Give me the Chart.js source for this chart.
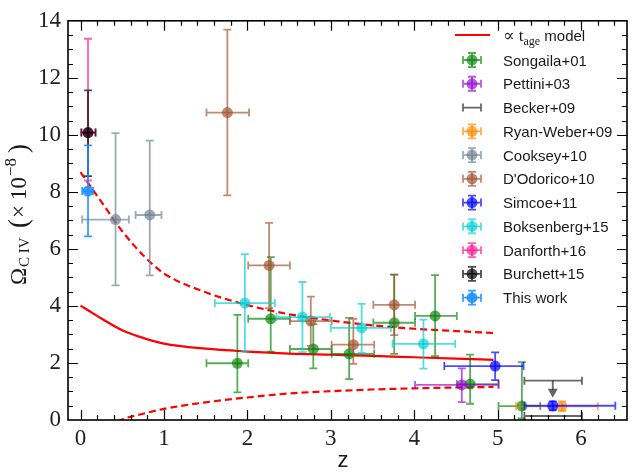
<!DOCTYPE html>
<html lang="en">
<head>
<meta charset="UTF-8">
<title>C IV cosmic mass density</title>
<script src="https://cdn.jsdelivr.net/npm/chart.js"></script>
<style>
  html, body { margin: 0; padding: 0; background: #fff; }
  #civChart { display: block; }
</style>
</head>
<body>
<canvas id="civChart" width="633" height="472"></canvas>
<script>
// Omega_CIV in units of 1e-8; z ranges are bin edges, Om ranges are 1-sigma bounds
var songailaZ    = [1.88, 2.28, 2.79, 3.22, 3.76, 4.25, 4.67, 5.29];
var songailaZLo  = [1.51, 2.01, 2.51, 3.01, 3.51, 4.01, 4.51, 5.01];
var songailaZHi  = [2.01, 2.51, 3.01, 3.52, 4.01, 4.51, 5.01, 5.51];
var songailaOm   = [1.99, 3.55, 2.49, 2.32, 3.41, 3.65, 1.26, 0.49];
var songailaOmLo = [0.97, 2.40, 1.81, 1.43, 2.32, 2.24, 0.57, 0.06];
var songailaOmHi = [3.69, 5.71, 3.36, 3.58, 5.10, 5.08, 2.29, 2.03];

var pettiniZ = [4.57], pettiniZLo = [4.01], pettiniZHi = [5.01];
var pettiniOm = [1.23], pettiniOmLo = [0.63], pettiniOmHi = [1.81];

// Becker: first value is an upper limit (arrow down to the lower number)
var beckerZ = [5.66, 5.66], beckerZLo = [5.32, 5.32], beckerZHi = [6.01, 6.01];
var beckerOm = [1.38, 0.14], beckerArrowTo = [0.78, null];

var ryanWeberZ = [5.77], ryanWeberZLo = [5.22], ryanWeberZHi = [6.20];
var ryanWeberOm = [0.48], ryanWeberOmLo = [0.32], ryanWeberOmHi = [0.65];

var cookseyZ = [0.42, 0.83], cookseyZLo = [0.02, 0.66], cookseyZHi = [0.58, 0.97];
var cookseyOm = [7.03, 7.19], cookseyOmLo = [4.72, 5.07], cookseyOmHi = [10.06, 9.80];

var dodoricoZ    = [1.76, 2.26, 2.76, 3.27, 3.76];
var dodoricoZLo  = [1.51, 2.01, 2.51, 3.01, 3.51];
var dodoricoZHi  = [2.02, 2.51, 3.01, 3.52, 4.01];
var dodoricoOm   = [10.78, 5.42, 3.47, 2.64, 4.04];
var dodoricoOmLo = [7.88, 3.92, 2.60, 1.97, 2.98];
var dodoricoOmHi = [13.69, 6.91, 4.33, 3.55, 5.10];

var simcoeZ = [4.97, 5.66], simcoeZLo = [4.36, 5.32], simcoeZHi = [5.31, 6.41];
var simcoeOm = [1.89, 0.50], simcoeOmLo = [1.40, 0.34], simcoeOmHi = [2.37, 0.65];

var boksenbergZ    = [1.97, 2.66, 3.37, 4.11];
var boksenbergZLo  = [1.61, 2.35, 3.00, 3.74];
var boksenbergZHi  = [2.33, 2.99, 3.72, 4.49];
var boksenbergOm   = [4.10, 3.61, 3.23, 2.67];
var boksenbergOmLo = [2.41, 2.38, 2.35, 1.80];
var boksenbergOmHi = [5.82, 4.84, 4.07, 3.52];

var danforthZ = [0.09], danforthZLo = [0.01], danforthZHi = [0.18];
var danforthOm = [10.08], danforthOmLo = [8.40], danforthOmHi = [13.37];

var burchettZ = [0.09], burchettZLo = [0.01], burchettZHi = [0.18];
var burchettOm = [10.08], burchettOmLo = [8.55], burchettOmHi = [11.56];

var thisWorkZ = [0.09], thisWorkZLo = [0.02], thisWorkZHi = [0.15];
var thisWorkOm = [8.03], thisWorkOmLo = [6.44], thisWorkOmHi = [9.63];

// t_age model curve and its spread
var modelZ     = [0, 0.1, 0.25, 0.5, 0.75, 1.0, 1.5, 2.0, 2.5, 3.0, 3.5, 4.0, 4.5, 4.95];
var modelMid   = [4.01, 3.83, 3.56, 3.15, 2.88, 2.68, 2.50, 2.40, 2.33, 2.29, 2.25, 2.20, 2.15, 2.11];
var modelUpper = [8.69, 8.27, 7.65, 6.62, 5.78, 5.14, 4.48, 4.03, 3.71, 3.49, 3.32, 3.20, 3.12, 3.05];
var modelLower = [-0.90, -0.72, -0.40, 0.02, 0.22, 0.39, 0.62, 0.79, 0.93, 1.01, 1.07, 1.11, 1.14, 1.16];

// axis ticks
var xMajor = [0, 1, 2, 3, 4, 5, 6];
var yMajor = [0, 2, 4, 6, 8, 10, 12, 14];

function pts(z, om, zLo, zHi, omLo, omHi, arrowTo) {
  return z.map(function (v, i) {
    return {
      x: v, y: om[i],
      xMin: zLo ? zLo[i] : null, xMax: zHi ? zHi[i] : null,
      yMin: omLo ? omLo[i] : null, yMax: omHi ? omHi[i] : null,
      arrowTo: arrowTo ? arrowTo[i] : null
    };
  });
}

function survey(label, rgb, alpha, data, noMarker) {
  var c = 'rgba(' + rgb + ',' + alpha + ')';
  return {
    label: label, data: data,
    errColor: c, noMarker: !!noMarker,
    pointRadius: noMarker ? 0 : 5.5,
    pointHoverRadius: noMarker ? 0 : 5.5,
    pointBackgroundColor: c, pointBorderWidth: 0,
    showLine: false
  };
}

function curve(z, vals, dash) {
  return {
    label: 'model', data: z.map(function (v, i) { return { x: v, y: vals[i] }; }),
    showLine: true, borderColor: '#ff0000', borderWidth: 2.2,
    borderDash: dash || [], pointRadius: 0, pointHoverRadius: 0,
    cubicInterpolationMode: 'monotone', fill: false, isModel: true
  };
}

var datasets = [
  curve(modelZ, modelMid),
  curve(modelZ, modelUpper, [7, 4]),
  curve(modelZ, modelLower, [7, 4]),
  survey('Songaila+01', '0,128,0', 0.65, pts(songailaZ, songailaOm, songailaZLo, songailaZHi, songailaOmLo, songailaOmHi)),
  survey('Pettini+03', '148,0,211', 0.65, pts(pettiniZ, pettiniOm, pettiniZLo, pettiniZHi, pettiniOmLo, pettiniOmHi)),
  survey('Becker+09', '0,0,0', 0.6, pts(beckerZ, beckerOm, beckerZLo, beckerZHi, null, null, beckerArrowTo), true),
  survey('Ryan-Weber+09', '255,140,0', 0.7, pts(ryanWeberZ, ryanWeberOm, ryanWeberZLo, ryanWeberZHi, ryanWeberOmLo, ryanWeberOmHi)),
  survey('Cooksey+10', '112,128,144', 0.68, pts(cookseyZ, cookseyOm, cookseyZLo, cookseyZHi, cookseyOmLo, cookseyOmHi)),
  survey("D'Odorico+10", '160,82,45', 0.68, pts(dodoricoZ, dodoricoOm, dodoricoZLo, dodoricoZHi, dodoricoOmLo, dodoricoOmHi)),
  survey('Simcoe+11', '0,0,255', 0.7, pts(simcoeZ, simcoeOm, simcoeZLo, simcoeZHi, simcoeOmLo, simcoeOmHi)),
  survey('Boksenberg+15', '0,206,209', 0.68, pts(boksenbergZ, boksenbergOm, boksenbergZLo, boksenbergZHi, boksenbergOmLo, boksenbergOmHi)),
  survey('Danforth+16', '255,20,147', 0.68, pts(danforthZ, danforthOm, danforthZLo, danforthZHi, danforthOmLo, danforthOmHi)),
  survey('Burchett+15', '0,0,0', 0.7, pts(burchettZ, burchettOm, burchettZLo, burchettZHi, burchettOmLo, burchettOmHi)),
  survey('This work', '30,144,255', 0.88, pts(thisWorkZ, thisWorkOm, thisWorkZLo, thisWorkZHi, thisWorkOmLo, thisWorkOmHi))
];
// first plotted goes underneath
datasets.forEach(function (d, i) { d.order = datasets.length - i; });

var CAP = 4;

// error bars drawn right before each dataset's markers
var errorBars = {
  id: 'errorBars',
  beforeDatasetDraw: function (chart, args) {
    var ds = chart.data.datasets[args.index];
    if (!ds.errColor) return;
    var ctx = chart.ctx, xs = chart.scales.x, ys = chart.scales.y, a = chart.chartArea;
    ctx.save();
    ctx.beginPath();
    ctx.rect(a.left, a.top, a.right - a.left, a.bottom - a.top);
    ctx.clip();
    ctx.strokeStyle = ds.errColor;
    ctx.fillStyle = ds.errColor;
    ctx.lineWidth = 1.8;
    ds.data.forEach(function (p) {
      var px = xs.getPixelForValue(p.x), py = ys.getPixelForValue(p.y);
      if (p.xMin != null) {
        var x0 = xs.getPixelForValue(p.xMin), x1 = xs.getPixelForValue(p.xMax);
        ctx.beginPath();
        ctx.moveTo(x0, py); ctx.lineTo(x1, py);
        ctx.moveTo(x0, py - CAP); ctx.lineTo(x0, py + CAP);
        ctx.moveTo(x1, py - CAP); ctx.lineTo(x1, py + CAP);
        ctx.stroke();
      }
      if (p.yMin != null) {
        var y0 = ys.getPixelForValue(p.yMin), y1 = ys.getPixelForValue(p.yMax);
        ctx.beginPath();
        ctx.moveTo(px, y0); ctx.lineTo(px, y1);
        ctx.moveTo(px - CAP, y0); ctx.lineTo(px + CAP, y0);
        ctx.moveTo(px - CAP, y1); ctx.lineTo(px + CAP, y1);
        ctx.stroke();
      }
      if (p.arrowTo != null) {
        var tip = ys.getPixelForValue(p.arrowTo);
        ctx.beginPath();
        ctx.moveTo(px, py); ctx.lineTo(px, tip - 8);
        ctx.stroke();
        ctx.beginPath();
        ctx.moveTo(px - 5, tip - 9); ctx.lineTo(px + 5, tip - 9); ctx.lineTo(px, tip);
        ctx.closePath();
        ctx.fill();
      }
    });
    ctx.restore();
  }
};

// frame with inward ticks on all four sides
var frameTicks = {
  id: 'frameTicks',
  afterDatasetsDraw: function (chart) {
    var ctx = chart.ctx, xs = chart.scales.x, ys = chart.scales.y, a = chart.chartArea;
    ctx.save();
    ctx.strokeStyle = '#000';
    ctx.lineWidth = 1.2;
    ctx.beginPath();
    var v, p, len;
    for (v = 0; v <= 6.45; v += 0.2) {
      p = Math.round(xs.getPixelForValue(v)) + 0.5;
      len = Math.abs(v - Math.round(v)) < 1e-6 ? 10 : 5;
      ctx.moveTo(p, a.bottom); ctx.lineTo(p, a.bottom - len);
      ctx.moveTo(p, a.top); ctx.lineTo(p, a.top + len);
    }
    for (v = 0.5; v < 14; v += 0.5) {
      p = Math.round(ys.getPixelForValue(v)) + 0.5;
      len = Math.abs(v / 2 - Math.round(v / 2)) < 1e-6 ? 10 : 5;
      ctx.moveTo(a.left, p); ctx.lineTo(a.left + len, p);
      ctx.moveTo(a.right, p); ctx.lineTo(a.right - len, p);
    }
    ctx.stroke();
    ctx.lineWidth = 1.6;
    ctx.strokeRect(a.left, a.top, a.right - a.left, a.bottom - a.top);
    ctx.restore();
  }
};

var SERIF = '"Liberation Serif", "DejaVu Serif", serif';
var SANS = '"Liberation Sans", Arial, sans-serif';

// y title pieces laid out along the rotated baseline
var yTitleParts = [
  { t: '\u03A9', size: 23, at: 0, dy: 0 },
  { t: 'C IV', size: 15, at: 18, dy: 3 },
  { t: '(', size: 27, at: 57, dy: 1 },
  { t: '\u00D7', size: 23, at: 67, dy: 0 },
  { t: '10', size: 23, at: 85, dy: 0 },
  { t: '\u22128', size: 17, at: 109, dy: -10 },
  { t: ')', size: 27, at: 132, dy: 1 }
];

// axis titles and the legend box
var labelsAndLegend = {
  id: 'labelsAndLegend',
  afterDraw: function (chart) {
    var ctx = chart.ctx;
    ctx.save();
    ctx.fillStyle = '#1a1a1a';
    ctx.textBaseline = 'alphabetic';

    ctx.font = '22px ' + SANS;
    ctx.textAlign = 'center';
    ctx.fillText('z', 343, 467);
    ctx.textAlign = 'left';

    ctx.save();
    ctx.translate(26, 285);
    ctx.rotate(-Math.PI / 2);
    yTitleParts.forEach(function (s) {
      ctx.font = s.size + 'px ' + SERIF;
      ctx.fillText(s.t, s.at, s.dy);
    });
    ctx.restore();

    // legend
    var xMark = 472, xText = 503;
    ctx.strokeStyle = '#ff0000';
    ctx.lineWidth = 2.2;
    ctx.beginPath(); ctx.moveTo(455, 35); ctx.lineTo(490, 35); ctx.stroke();
    var tx = xText;
    ctx.font = '17px ' + SERIF; ctx.fillText('\u221D t', tx, 41); tx += ctx.measureText('\u221D t').width;
    ctx.font = '12px ' + SERIF; ctx.fillText('age', tx, 45); tx += ctx.measureText('age').width;
    ctx.font = '15px ' + SANS; ctx.fillText(' model', tx, 41);

    var rows = chart.data.datasets.filter(function (d) { return !d.isModel; });
    rows.forEach(function (d, i) {
      var y = 60 + i * 23.77;
      ctx.strokeStyle = d.errColor;
      ctx.fillStyle = d.errColor;
      ctx.lineWidth = 1.8;
      ctx.beginPath();
      ctx.moveTo(xMark - 9, y); ctx.lineTo(xMark + 9, y);
      ctx.moveTo(xMark - 9, y - CAP); ctx.lineTo(xMark - 9, y + CAP);
      ctx.moveTo(xMark + 9, y - CAP); ctx.lineTo(xMark + 9, y + CAP);
      if (!d.noMarker) {
        ctx.moveTo(xMark, y - 7); ctx.lineTo(xMark, y + 7);
        ctx.moveTo(xMark - CAP, y - 7); ctx.lineTo(xMark + CAP, y - 7);
        ctx.moveTo(xMark - CAP, y + 7); ctx.lineTo(xMark + CAP, y + 7);
      }
      ctx.stroke();
      if (!d.noMarker) {
        ctx.beginPath(); ctx.arc(xMark, y, 5.5, 0, Math.PI * 2); ctx.fill();
      }
      ctx.fillStyle = '#1a1a1a';
      ctx.font = '15px ' + SANS;
      ctx.fillText(d.label, xText, y + 5.5);
    });
    ctx.restore();
  }
};

var ctx = document.getElementById('civChart').getContext('2d');
var civChart = new Chart(ctx, {
  type: 'scatter',
  data: { datasets: datasets },
  options: {
    responsive: false,
    animation: false,
    devicePixelRatio: 1,
    layout: { padding: { left: 0, right: 6, top: 13, bottom: 0 } },
    plugins: { legend: { display: false }, tooltip: { enabled: false } },
    scales: {
      x: {
        type: 'linear', min: -0.15, max: 6.55,
        afterBuildTicks: function (s) { s.ticks = xMajor.map(function (v) { return { value: v }; }); },
        afterFit: function (s) { s.height = 52; },
        grid: { display: false, drawTicks: false },
        border: { display: false },
        ticks: { padding: 5, color: '#222', font: { family: SERIF, size: 23 }, maxRotation: 0 }
      },
      y: {
        type: 'linear', min: 0, max: 14,
        afterBuildTicks: function (s) { s.ticks = yMajor.map(function (v) { return { value: v }; }); },
        afterFit: function (s) { s.width = 68; },
        grid: { display: false, drawTicks: false },
        border: { display: false },
        ticks: { padding: 7, color: '#222', font: { family: SERIF, size: 23 } }
      }
    }
  },
  plugins: [errorBars, frameTicks, labelsAndLegend]
});
</script>
</body>
</html>
